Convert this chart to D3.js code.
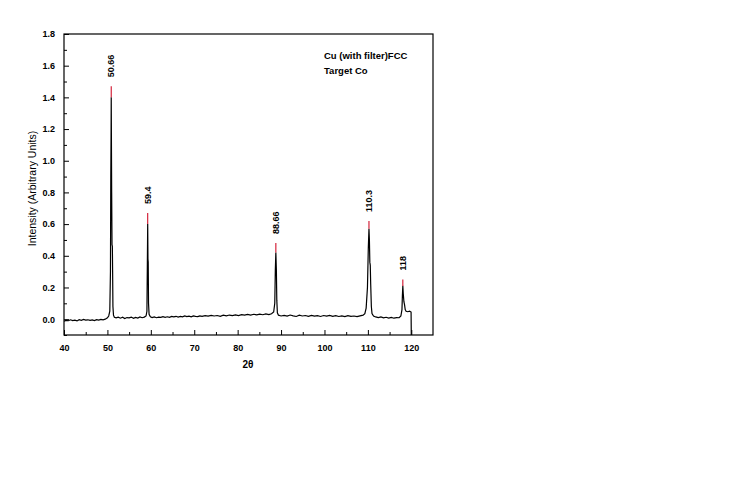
<!DOCTYPE html>
<html><head><meta charset="utf-8">
<script src="https://cdn.jsdelivr.net/npm/d3@7"></script>
<style>body{margin:0;background:#fff}svg{display:block}</style>
</head><body>
<svg id="c" width="735" height="501"></svg>
<script>
// Spectrum: 2θ (degrees) and intensity (arbitrary units)
const twoTheta = [40.0,40.5,41,41.5,42,42.5,43,43.5,44,44.5,45,45.5,46,46.5,47,47.5,48,48.5,49,49.5,
  50.0,50.3,50.55,50.7,50.78,50.84,50.88,50.92,50.98,51.06,51.14,51.2,51.27,51.4,51.6,
  52,52.5,53,53.5,54,54.5,55,55.5,56,56.5,57,57.5,58,58.5,58.9,
  59.1,59.2,59.28,59.34,59.4,59.47,59.6,59.9,
  60.3,60.8,61.3,61.8,62.3,62.8,63.3,63.8,64.3,64.8,65.3,65.8,66.3,66.8,67.3,67.8,68.3,68.8,69.3,69.8,70.3,70.8,71.3,
  71.8,72.5,73.2,73.9,74.6,75.3,76.0,76.7,77.4,78.1,78.8,79.5,80.2,80.9,81.6,82.3,83.0,83.7,84.4,85.1,85.8,86.5,87.2,87.8,
  88.3,88.55,88.68,88.8,88.92,89.02,89.15,89.4,
  90,90.7,91.4,92.1,92.8,93.5,94.2,94.9,95.6,96.3,97.0,97.7,98.4,99.1,99.8,100.5,101.2,101.9,102.6,103.3,104,104.7,105.4,106.1,106.8,107.5,108.2,108.9,
  109.3,109.6,109.9,110.1,110.25,110.35,110.45,110.55,110.65,110.8,110.95,111.3,111.8,
  112.4,113,113.6,114.2,114.8,115.4,116,116.6,117.2,117.6,
  117.85,117.95,118.05,118.15,118.3,118.45,118.6,118.8,119.2,119.6,119.95,120.0];
const intensity = [-0.012,-0.008,-0.010,-0.004,-0.009,-0.006,-0.011,-0.003,-0.007,-0.002,-0.006,-0.004,-0.008,-0.005,-0.009,-0.003,-0.006,-0.002,-0.004,0.0,
  0.008,0.02,0.05,0.3,0.9,1.15,1.40,1.15,0.8,0.47,0.46,0.3,0.08,0.025,0.012,
  0.008,0.013,0.006,0.012,0.004,0.010,0.008,0.013,0.005,0.011,0.007,0.014,0.009,0.013,0.02,
  0.05,0.35,0.60,0.38,0.36,0.1,0.03,0.015,
  0.01,0.014,0.009,0.013,0.011,0.016,0.012,0.015,0.011,0.017,0.014,0.018,0.013,0.017,0.015,0.02,0.016,0.019,0.015,0.021,0.018,0.016,0.021,
  0.018,0.022,0.019,0.024,0.02,0.023,0.018,0.025,0.021,0.026,0.022,0.027,0.023,0.029,0.025,0.03,0.026,0.031,0.027,0.032,0.028,0.033,0.029,0.034,
  0.045,0.1,0.31,0.42,0.31,0.12,0.04,0.025,
  0.02,0.024,0.019,0.026,0.021,0.017,0.025,0.02,0.023,0.018,0.024,0.019,0.022,0.017,0.023,0.019,0.024,0.018,0.022,0.017,0.021,0.016,0.022,0.018,0.02,0.016,0.021,0.025,
  0.035,0.07,0.2,0.45,0.57,0.5,0.36,0.34,0.22,0.08,0.035,0.02,0.014,
  0.01,0.014,0.008,0.012,0.007,0.011,0.006,0.01,0.009,0.02,
  0.06,0.15,0.21,0.16,0.11,0.09,0.06,0.05,0.047,0.05,0.045,-0.1];

// Peak positions, red peak-top segments, and peak labels
const peakX     = [50.88, 59.28, 88.8, 110.25, 118.05];
const peakLow   = [1.40, 0.60, 0.42, 0.57, 0.21];
const peakHigh  = [1.47, 0.67, 0.48, 0.62, 0.25];
const peakLabel = ["50.66", "59.4", "88.66", "110.3", "118"];

const xTicks = [40,50,60,70,80,90,100,110,120];
const yTicks = [0.0,0.2,0.4,0.6,0.8,1.0,1.2,1.4,1.6,1.8];
const legendLines = ["Cu (with filter)FCC", "Target Co"];

const L = 64, R = 433, T = 34, B = 335;
const x = d3.scaleLinear().domain([40,125]).range([L,R]);
const y = d3.scaleLinear().domain([-0.1,1.8]).range([B,T]);
const svg = d3.select("#c");
const font = "'Liberation Sans', Arial, sans-serif";

svg.append("defs").append("clipPath").attr("id","clip")
  .append("rect").attr("x",L).attr("y",T).attr("width",R-L).attr("height",B-T);

// frame
svg.append("rect").attr("x",L).attr("y",T).attr("width",R-L).attr("height",B-T)
  .attr("fill","none").attr("stroke","#000").attr("stroke-width",1.2);

// x axis (ticks inward)
const xAxis = d3.axisBottom(x).tickValues(xTicks).tickSize(-5).tickPadding(10).tickFormat(d3.format("d"));
const gx = svg.append("g").attr("transform",`translate(0,${B})`).call(xAxis);
gx.select(".domain").remove();
gx.selectAll("text").attr("font-family",font).attr("font-size",9).attr("font-weight","bold").attr("fill","#000");
const xMinor = d3.axisBottom(x).tickValues(d3.range(45,125,10)).tickSize(-3).tickFormat("");
const gxm = svg.append("g").attr("transform",`translate(0,${B})`).call(xMinor);
gxm.select(".domain").remove();

// y axis
const yAxis = d3.axisLeft(y).tickValues(yTicks).tickSize(-5).tickPadding(9).tickFormat(d3.format(".1f"));
const gy = svg.append("g").attr("transform",`translate(${L},0)`).call(yAxis);
gy.select(".domain").remove();
gy.selectAll("text").attr("font-family",font).attr("font-size",9).attr("font-weight","bold").attr("fill","#000");
const yMinor = d3.axisLeft(y).tickValues([-0.1,0.1,0.3,0.5,0.7,0.9,1.1,1.3,1.5,1.7]).tickSize(-3).tickFormat("");
const gym = svg.append("g").attr("transform",`translate(${L},0)`).call(yMinor);
gym.select(".domain").remove();

// spectrum
const pts = twoTheta.map((t,i)=>[t,intensity[i]]);
svg.append("path").datum(pts).attr("clip-path","url(#clip)")
  .attr("fill","none").attr("stroke","#000").attr("stroke-width",1.2)
  .attr("d", d3.line().x(d=>x(d[0])).y(d=>y(d[1])));

// red peak tops
svg.selectAll("line.peak").data(peakX).enter().append("line")
  .attr("x1",d=>x(d)).attr("x2",d=>x(d))
  .attr("y1",(d,i)=>y(peakLow[i])).attr("y2",(d,i)=>y(peakHigh[i]))
  .attr("stroke","#d0102a").attr("stroke-width",1.1);

// peak labels
svg.selectAll("text.pl").data(peakX).enter().append("text")
  .attr("transform",(d,i)=>`translate(${x(d)},${y(peakHigh[i])-9}) rotate(-90)`)
  .attr("dy","0.35em").attr("text-anchor","start")
  .attr("font-family",font).attr("font-size",9).attr("font-weight","bold")
  .text((d,i)=>peakLabel[i]);

// legend text
svg.selectAll("text.lg").data(legendLines).enter().append("text")
  .attr("x",324).attr("y",(d,i)=>59+i*15)
  .attr("font-family",font).attr("font-size",9.5).attr("font-weight","bold")
  .text(d=>d);

// axis titles
svg.append("text").attr("transform",`translate(36,${(T+B)/2+4}) rotate(-90)`)
  .attr("text-anchor","middle").attr("font-family",font).attr("font-size",10.5)
  .text("Intensity (Arbitrary Units)");
svg.append("text").attr("x",248).attr("y",368).attr("text-anchor","middle")
  .attr("font-family",font).attr("font-size",10).attr("font-weight","bold")
  .text("2θ");
</script>
</body></html>
